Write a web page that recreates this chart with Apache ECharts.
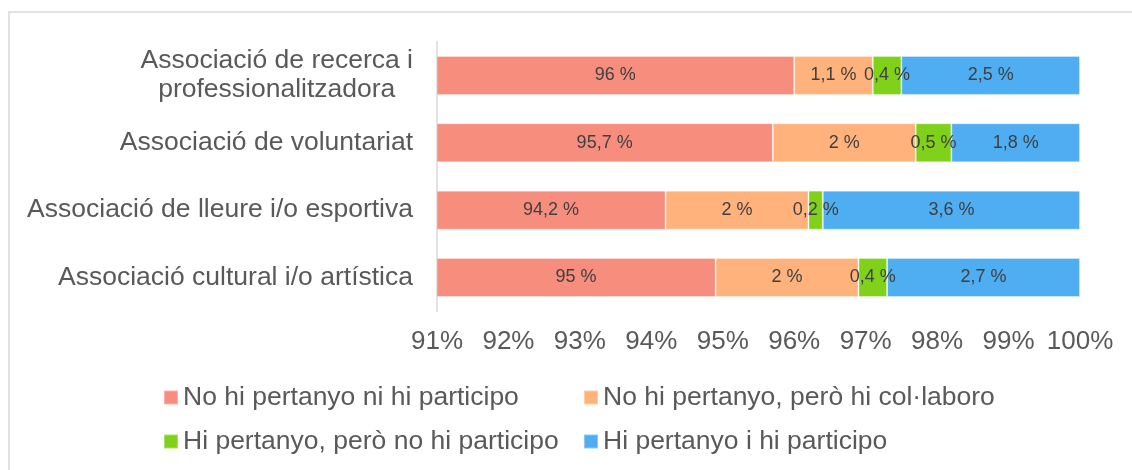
<!DOCTYPE html>
<html>
<head>
<meta charset="utf-8">
<script src="https://cdn.jsdelivr.net/npm/echarts@6/dist/echarts.min.js"></script>
<style>
  html, body { margin: 0; padding: 0; background: #fff; }
  #chart { width: 1132px; height: 470px; }
</style>
</head>
<body>
<div id="chart"></div>
<script>
// categories, top to bottom
var categories = [
    'Associació de recerca i\nprofessionalitzadora',
    'Associació de voluntariat',
    'Associació de lleure i/o esportiva',
    'Associació cultural i/o artística'
];
var seriesNames = [
    'No hi pertanyo ni hi participo',
    'No hi pertanyo, però hi col·laboro',
    'Hi pertanyo, però no hi participo',
    'Hi pertanyo i hi participo'
];
var noNi = [96, 95.7, 94.2, 94.9];
var noCol = [1.1, 2, 2, 2];
var siNo = [0.4, 0.5, 0.2, 0.4];
var siSi = [2.5, 1.8, 3.6, 2.7];
// labels as printed on the bars
var noNiLabels = ['96 %', '95,7 %', '94,2 %', '95 %'];
var noColLabels = ['1,1 %', '2 %', '2 %', '2 %'];
var siNoLabels = ['0,4 %', '0,5 %', '0,2 %', '0,4 %'];
var siSiLabels = ['2,5 %', '1,8 %', '3,6 %', '2,7 %'];
var xTicks = [91, 100, 1];

var colors = ['#F68D7D', '#FFB27B', '#80D11A', '#4FADF2'];
var font = '"Liberation Sans", Arial, sans-serif';

function makeSeries(i, values, labels) {
    return {
        name: seriesNames[i],
        type: 'bar',
        stack: 'total',
        barWidth: 39,
        data: values,
        itemStyle: {
            color: colors[i],
            borderColor: 'rgba(255,255,255,0.35)',
            borderWidth: 1
        },
        label: {
            show: true,
            position: 'inside',
            color: '#404040',
            fontSize: 18,
            fontFamily: font,
            formatter: function (p) { return labels[p.dataIndex]; }
        }
    };
}

function makeLegend(i, left, top) {
    return {
        data: [seriesNames[i]],
        left: left,
        top: top,
        padding: 0,
        icon: 'rect',
        itemWidth: 14,
        itemHeight: 14,
        selectedMode: false,
        textStyle: { fontSize: 26.5, color: '#595959', fontFamily: font }
    };
}

var myChart = echarts.init(document.getElementById('chart'));
myChart.setOption({
    animation: false,
    textStyle: { fontFamily: font },
    graphic: [{
        type: 'polyline',
        shape: { points: [[9, 470], [9, 12], [1132, 12]] },
        style: { stroke: '#d9d9d9', lineWidth: 1.5, fill: null }
    }],
    grid: { left: 437, right: 52, top: 41.7, height: 269.5 },
    legend: [
        makeLegend(0, 163, 384),
        makeLegend(1, 583, 384),
        makeLegend(2, 163, 428),
        makeLegend(3, 583, 428)
    ],
    xAxis: {
        type: 'value',
        min: xTicks[0],
        max: xTicks[1],
        interval: xTicks[2],
        splitLine: { show: false },
        axisLine: { show: false },
        axisTick: { show: false },
        axisLabel: {
            formatter: '{value}%',
            fontSize: 26,
            color: '#595959',
            margin: 18,
            fontFamily: font
        }
    },
    yAxis: {
        type: 'category',
        inverse: true,
        data: categories,
        axisLine: { show: true, lineStyle: { color: '#d9d9d9', width: 1.5 } },
        axisTick: { show: false },
        axisLabel: {
            margin: 24,
            align: 'right',
            formatter: function (v) {
                return v.split('\n').map(function (s) { return '{a|' + s + '}'; }).join('\n');
            },
            rich: {
                a: { fontSize: 26.5, color: '#595959', fontFamily: font, align: 'center', lineHeight: 29 }
            }
        }
    },
    series: [
        makeSeries(0, noNi, noNiLabels),
        makeSeries(1, noCol, noColLabels),
        makeSeries(2, siNo, siNoLabels),
        makeSeries(3, siSi, siSiLabels)
    ]
});
</script>
</body>
</html>
